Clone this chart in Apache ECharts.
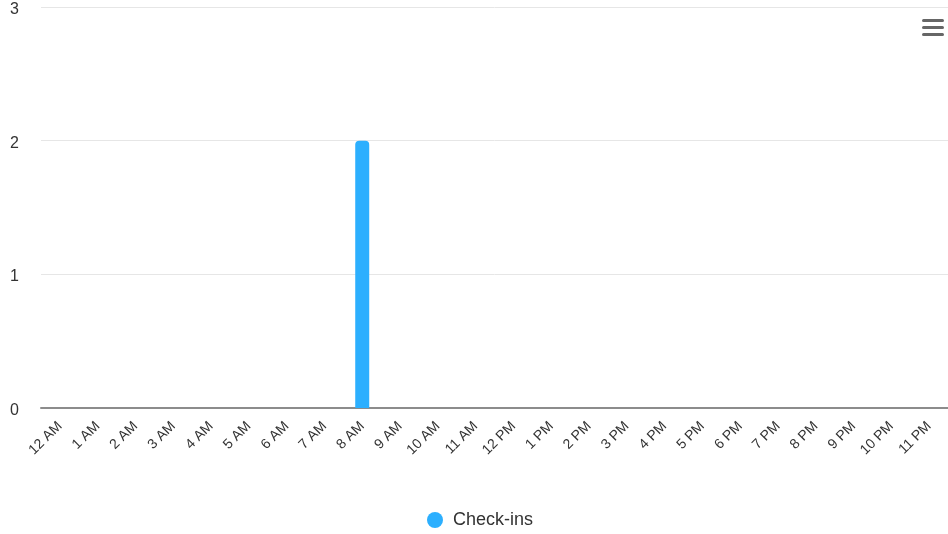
<!DOCTYPE html>
<html><head><meta charset="utf-8">
<script src="https://cdn.jsdelivr.net/npm/echarts@6/dist/echarts.min.js"></script>
<style>html,body{margin:0;padding:0;background:#fff}#c{width:948px;height:534px}</style>
</head><body><div id="c"></div>
<script>
const categories = ['12 AM','1 AM','2 AM','3 AM','4 AM','5 AM','6 AM','7 AM','8 AM','9 AM','10 AM','11 AM','12 PM','1 PM','2 PM','3 PM','4 PM','5 PM','6 PM','7 PM','8 PM','9 PM','10 PM','11 PM'];
const checkIns = [0,0,0,0,0,0,0,0,2,0,0,0,0,0,0,0,0,0,0,0,0,0,0,0];
const seriesName = 'Check-ins';

const chart = echarts.init(document.getElementById('c'));
chart.setOption({
  animation: false,
  textStyle: {fontFamily: 'Arial, "Liberation Sans", sans-serif'},
  grid: {left: 41, right: 0, top: 7, bottom: 126, containLabel: false},
  legend: {
    bottom: 0, left: 422, icon: 'circle', itemWidth: 16, itemHeight: 16, itemGap: 8,
    textStyle: {fontSize: 18, color: '#333', padding: [0, 0, 0, 5]},
    data: [seriesName]
  },
  xAxis: {
    type: 'category', data: categories,
    axisLine: {lineStyle: {color: '#8c8c8c', width: 2}},
    axisTick: {show: false},
    axisLabel: {rotate: 45, fontSize: 14, color: '#333', interval: 0, margin: 16}
  },
  yAxis: {
    type: 'value', min: 0, max: 3, interval: 1,
    axisLabel: {
      margin: 22,
      formatter: v => '{a|' + v + '}',
      rich: {a: {fontSize: 16, color: '#333', padding: [5, 0, 0, 0]}}
    },
    splitLine: {lineStyle: {color: '#e6e6e6', width: 1}},
    axisLine: {show: false}, axisTick: {show: false}
  },
  series: [{
    name: seriesName, type: 'bar', data: checkIns, barWidth: 14,
    itemStyle: {color: '#2caffe', borderRadius: [4,4,0,0]}
  }],
  graphic: [
    {type: 'rect', shape: {x: 922, y: 19, width: 22, height: 3, r: 1.5}, style: {fill: '#666'}},
    {type: 'rect', shape: {x: 922, y: 26, width: 22, height: 3, r: 1.5}, style: {fill: '#666'}},
    {type: 'rect', shape: {x: 922, y: 33, width: 22, height: 3, r: 1.5}, style: {fill: '#666'}}
  ]
});
</script></body></html>
